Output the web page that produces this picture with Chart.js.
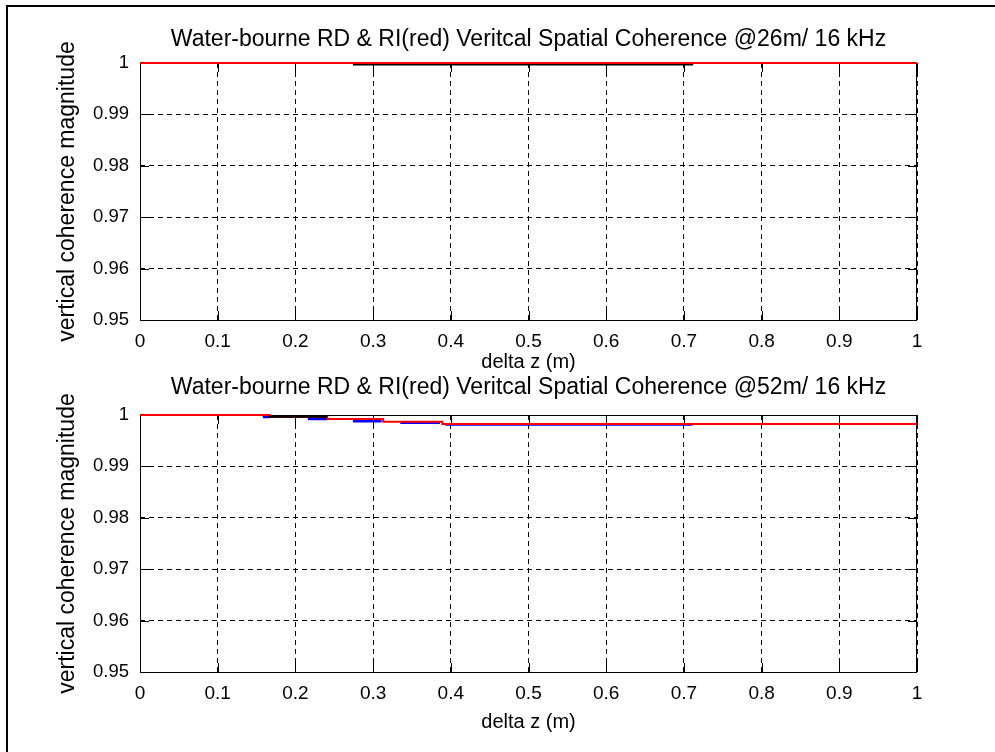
<!DOCTYPE html>
<html>
<head>
<meta charset="utf-8">
<script src="https://cdn.jsdelivr.net/npm/chart.js@4"></script>
<style>
  html, body { margin: 0; padding: 0; background: #fff; overflow: hidden; }
  body { width: 995px; height: 752px; position: relative; }
  .frame { position: absolute; left: 6px; top: 5px; width: 1100px; height: 900px; border: 2px solid #000; }
  canvas { position: absolute; left: 0; }
  #c1 { top: 0; }
  #c2 { top: 366px; }
</style>
</head>
<body>
<div class="frame"></div>
<canvas id="c1" width="995" height="380"></canvas>
<canvas id="c2" width="995" height="386"></canvas>
<script>
const xTicks = [0, 0.1, 0.2, 0.3, 0.4, 0.5, 0.6, 0.7, 0.8, 0.9, 1];
const xTickLabels = ["0", "0.1", "0.2", "0.3", "0.4", "0.5", "0.6", "0.7", "0.8", "0.9", "1"];
const yTicks = [0.95, 0.96, 0.97, 0.98, 0.99, 1];
const yTickLabels = ["0.95", "0.96", "0.97", "0.98", "0.99", "1"];

// @26m
const ri26X = [0, 1];
const ri26Y = [1, 1];
const rd26X = [0.274, 0.712];
const rd26Y = [0.99975, 0.99975];

// @52m
const ri52X = [0, 0.167, 0.167, 0.241, 0.241, 0.313, 0.313, 0.389, 0.389, 1];
const ri52Y = [1, 1, 0.9996, 0.9996, 0.9992, 0.9992, 0.9987, 0.9987, 0.99825, 0.99825];
const rdBlue52X = [0.158, 0.167, 0.167, 0.216, 0.241, 0.241, 0.274, 0.311, 0.311, 0.335, 0.386, 0.386, 0.393, 0.711];
const rdBlue52Y = [0.9996, 0.9996, null, 0.9992, 0.9992, null, 0.9988, 0.9988, null, 0.9985, 0.9985, null, 0.99815, 0.99815];
const rdBlack52X = [0.165, 0.241];
const rdBlack52Y = [0.99968, 0.99968];

const FONT = "'Liberation Sans', Arial, sans-serif";
Chart.defaults.color = "#000";
Chart.defaults.font.family = FONT;

const pts = (xs, ys) => xs.map((x, i) => ({ x: x, y: ys[i] }));

// matlab style box with inward ticks
const boxPlugin = {
  id: "box",
  beforeDatasetsDraw(chart) {
    const { ctx, chartArea: a, scales } = chart;
    ctx.save();
    ctx.strokeStyle = "#000";
    ctx.lineWidth = 1;
    ctx.strokeRect(a.left + 0.5, a.top + 0.5, a.right - a.left - 1, a.bottom - a.top);
    ctx.beginPath();
    scales.x.ticks.forEach(t => {
      const px = Math.round(scales.x.getPixelForValue(t.value)) + 0.5;
      ctx.moveTo(px, a.bottom); ctx.lineTo(px, a.bottom - 9);
      ctx.moveTo(px, a.top); ctx.lineTo(px, a.top + 9);
    });
    scales.y.ticks.forEach(t => {
      const py = Math.round(scales.y.getPixelForValue(t.value)) + 0.5;
      ctx.moveTo(a.left, py); ctx.lineTo(a.left + 9, py);
      ctx.moveTo(a.right, py); ctx.lineTo(a.right - 9, py);
    });
    ctx.stroke();
    ctx.restore();
  }
};

function line(data, color, width) {
  return { data: data, borderColor: color, backgroundColor: color, borderWidth: width,
           pointRadius: 0, tension: 0, spanGaps: false, fill: false, clip: 4 };
}

function makeChart(id, title, datasets, lay) {
  new Chart(document.getElementById(id), {
    type: "line",
    data: { datasets: datasets },
    plugins: [boxPlugin],
    options: {
      responsive: false,
      animation: false,
      layout: { padding: { left: 0, right: 78, top: 0, bottom: 0 } },
      plugins: {
        legend: { display: false },
        tooltip: { enabled: false },
        title: {
          display: true, text: title, fullSize: false,
          font: { size: 23, weight: "normal", family: FONT },
          padding: { top: lay.titleTop, bottom: lay.titleBottom }
        }
      },
      scales: {
        x: {
          type: "linear", min: 0, max: 1,
          afterBuildTicks: s => { s.ticks = xTicks.map(v => ({ value: v })); },
          afterFit: s => { s.height = lay.xHeight; },
          ticks: { callback: (v, i) => xTickLabels[i], font: { size: 19 }, padding: 10, maxRotation: 0 },
          grid: { color: "#000", lineWidth: 1, drawTicks: false },
          border: { display: false, dash: [5, 4] },
          title: { display: true, text: "delta z (m)", font: { size: 20 }, padding: { top: 0, bottom: lay.xTitleBottom } }
        },
        y: {
          type: "linear", min: 0.95, max: 1,
          afterBuildTicks: s => { s.ticks = yTicks.map(v => ({ value: v })); },
          afterFit: s => { s.width = 140; },
          ticks: { callback: (v, i) => yTickLabels[i], font: { size: 18.5 }, padding: 11 },
          grid: { color: "#000", lineWidth: 1, drawTicks: false },
          border: { display: false, dash: [5, 4] },
          title: { display: true, text: "vertical coherence magnitude", font: { size: 23 }, padding: { top: 54, bottom: 0 } }
        }
      }
    }
  });
}

makeChart("c1", "Water-bourne RD & RI(red) Veritcal Spatial Coherence @26m/ 16 kHz", [
  line(pts(ri26X, ri26Y), "#ff0000", 2),
  line(pts(rd26X, rd26Y), "#000000", 2.5)
], { titleTop: 26.2, titleBottom: 9.2, xHeight: 60, xTitleBottom: 6 });

makeChart("c2", "Water-bourne RD & RI(red) Veritcal Spatial Coherence @52m/ 16 kHz", [
  line(pts(rdBlack52X, rdBlack52Y), "#000000", 2),
  line(pts(ri52X, ri52Y), "#ff0000", 2),
  line(pts(rdBlue52X, rdBlue52Y), "#0000ff", 2.5)
], { titleTop: 8.2, titleBottom: 13.2, xHeight: 80, xTitleBottom: 18 });
</script>
</body>
</html>
